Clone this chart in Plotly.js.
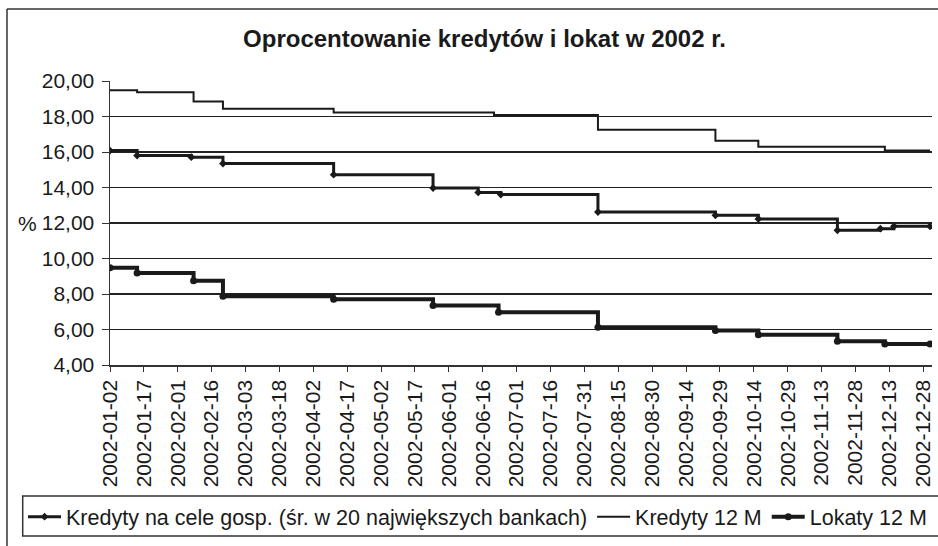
<!DOCTYPE html>
<html>
<head>
<meta charset="utf-8">
<script src="https://cdn.plot.ly/plotly-3.0.1.min.js"></script>
<style>
  html, body { margin: 0; padding: 0; background: #ffffff; overflow: hidden; }
  #chart { width: 938px; height: 546px; }
</style>
</head>
<body>
<div id="chart"></div>
<script>
// Change points of each step series (date of change, value from that date on)
const kgDates = ['2002-01-02','2002-01-14','2002-02-07','2002-02-21','2002-04-11','2002-05-25','2002-06-14','2002-06-24','2002-08-06','2002-09-27','2002-10-16','2002-11-20','2002-12-09','2002-12-15','2002-12-31'];
const kgValues = [16.08, 15.80, 15.71, 15.35, 14.72, 13.97, 13.72, 13.60, 12.62, 12.43, 12.23, 11.59, 11.68, 11.81, 11.81];

const k12Dates = ['2002-01-02','2002-01-14','2002-02-08','2002-02-21','2002-04-11','2002-06-21','2002-08-06','2002-09-27','2002-10-16','2002-12-11','2002-12-31'];
const k12Values = [19.48, 19.36, 18.84, 18.43, 18.22, 18.09, 17.25, 16.63, 16.29, 16.08, 16.08];

const lokDates = ['2002-01-02','2002-01-14','2002-02-08','2002-02-21','2002-04-11','2002-05-25','2002-06-23','2002-08-06','2002-09-27','2002-10-16','2002-11-20','2002-12-11','2002-12-31'];
const lokValues = [9.48, 9.18, 8.75, 7.87, 7.70, 7.35, 6.97, 6.12, 5.94, 5.71, 5.34, 5.19, 5.19];

const tickLabels = ['2002-01-02','2002-01-17','2002-02-01','2002-02-16','2002-03-03','2002-03-18','2002-04-02','2002-04-17','2002-05-02','2002-05-17','2002-06-01','2002-06-16','2002-07-01','2002-07-16','2002-07-31','2002-08-15','2002-08-30','2002-09-14','2002-09-29','2002-10-14','2002-10-29','2002-11-13','2002-11-28','2002-12-13','2002-12-28'];

const seriesNames = ['Kredyty na cele gosp. (śr. w 20 największych bankach)', 'Kredyty 12 M', 'Lokaty 12 M'];

const FONT = 'Liberation Sans, Arial, sans-serif';
const INK = '#1a1a1a';

const traces = [
  {
    x: kgDates, y: kgValues, name: seriesNames[0], type: 'scatter', mode: 'lines+markers',
    line: { shape: 'hv', color: INK, width: 3 },
    marker: { symbol: 'diamond', size: 6, color: INK }
  },
  {
    x: k12Dates, y: k12Values, name: seriesNames[1], type: 'scatter', mode: 'lines',
    line: { shape: 'hv', color: INK, width: 2 }
  },
  {
    x: lokDates, y: lokValues, name: seriesNames[2], type: 'scatter', mode: 'lines+markers',
    line: { shape: 'hv', color: INK, width: 4 },
    marker: { symbol: 'circle', size: 7, color: INK }
  }
];

const layout = {
  width: 938, height: 546,
  margin: { l: 110, r: 6, t: 81, b: 181, pad: 0 },
  paper_bgcolor: '#ffffff', plot_bgcolor: '#ffffff',
  separators: ', ',
  font: { family: FONT, color: INK, size: 21 },
  title: {
    text: 'Oprocentowanie kredytów i lokat w 2002 r.',
    font: { family: FONT, size: 24, color: INK, weight: 'bold' },
    xref: 'container', yref: 'container',
    x: 0.5165, xanchor: 'center', y: 0.929, yanchor: 'middle'
  },
  xaxis: {
    type: 'date',
    range: ['2002-01-02', '2002-12-31 21:00'],
    tickvals: tickLabels, ticktext: tickLabels,
    tickangle: -90,
    tickfont: { family: FONT, size: 21, color: INK },
    ticks: 'outside', ticklen: 5, tickcolor: '#333', tickwidth: 1,
    showgrid: false, zeroline: false,
    showline: true, linecolor: '#333', linewidth: 1.5
  },
  yaxis: {
    range: [4, 20],
    tick0: 4, dtick: 2,
    tickformat: '.2f',
    tickfont: { family: FONT, size: 21, color: INK },
    ticks: 'outside', ticklen: 7, tickcolor: '#333', tickwidth: 1,
    ticklabelstandoff: 3,
    showgrid: true, gridcolor: '#222', gridwidth: 1.2,
    zeroline: false,
    showline: true, linecolor: '#333', linewidth: 1.5
  },
  showlegend: true,
  legend: {
    orientation: 'h',
    x: -0.1058, xanchor: 'left',
    y: -0.5342, yanchor: 'middle',
    borderwidth: 0,
    bgcolor: 'rgba(0,0,0,0)',
    font: { family: FONT, size: 21.5, color: INK },
    itemwidth: 33,
    traceorder: 'normal'
  },
  annotations: [
    {
      text: '%', xref: 'paper', yref: 'y', x: -0.0998, y: 12,
      xanchor: 'center', yanchor: 'middle', showarrow: false,
      font: { family: FONT, size: 21, color: INK }
    }
  ],
  shapes: [
    {
      type: 'line', xref: 'paper', yref: 'paper',
      x0: -0.1253, x1: -0.1253, y0: -0.7, y1: 1.2535,
      line: { color: '#333', width: 1.5 }, layer: 'below'
    },
    {
      type: 'line', xref: 'paper', yref: 'paper',
      x0: -0.1253, x1: 1.1, y0: 1.2535, y1: 1.2535,
      line: { color: '#333', width: 1.5 }, layer: 'below'
    },
    {
      type: 'rect', xref: 'paper', yref: 'paper',
      x0: -0.1062, x1: 1.1, y0: -0.6021, y1: -0.4613,
      line: { color: '#333', width: 1.5 }, fillcolor: 'rgba(0,0,0,0)', layer: 'below'
    }
  ],
  hovermode: false
};

Plotly.newPlot('chart', traces, layout, { displayModeBar: false, staticPlot: true });
</script>
</body>
</html>
